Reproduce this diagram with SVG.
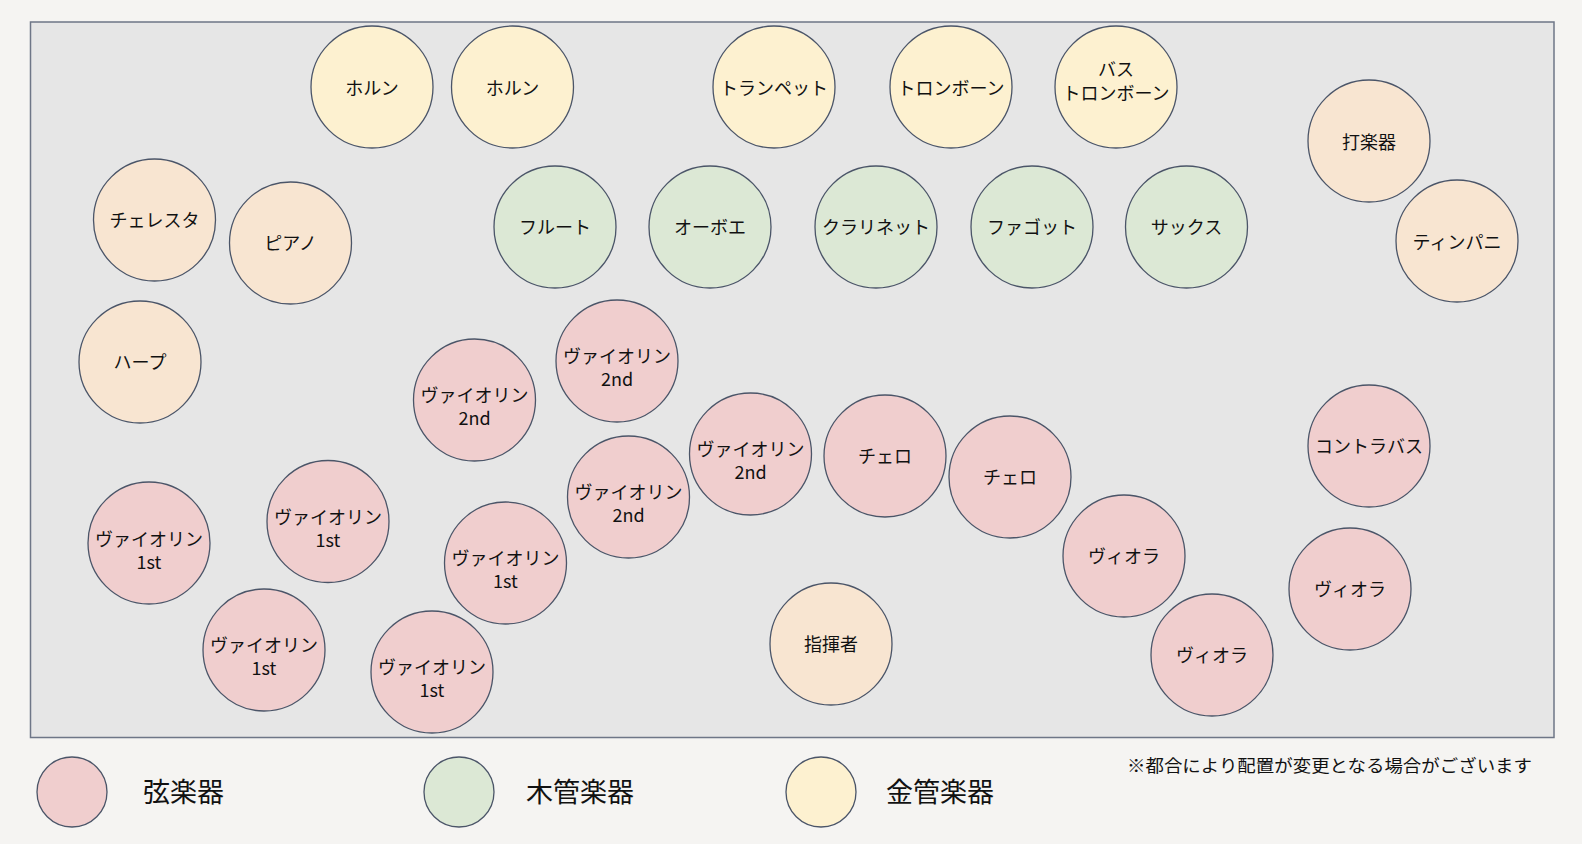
<svg xmlns="http://www.w3.org/2000/svg" width="1582" height="844" viewBox="0 0 1582 844">
<style>
.n{stroke:#4b5568;stroke-width:1.3}
.s{fill:#f0cece}
.w{fill:#dce8d5}
.b{fill:#fdf1d0}
.o{fill:#f8e5d1}
text{font-family:"Noto Sans CJK JP","Noto Sans",sans-serif;fill:#111;text-anchor:middle;dominant-baseline:central}
.t{font-size:18px}
.lg{font-size:27px;text-anchor:start}
.nt{font-size:17px;text-anchor:start}
</style>
<rect x="0" y="0" width="1582" height="844" fill="#f5f4f2"/>
<rect id="stage" x="30.5" y="22" width="1523.5" height="715.5" fill="#e6e6e6" stroke="#6e7687" stroke-width="1.5"/>
<g id="connectors"></g>
<g transform="translate(0,-1)">
<g id="horn1"><circle class="n b" cx="372" cy="88" r="61"/><text class="t" x="372" y="88">ホルン</text></g>
<g id="horn2"><circle class="n b" cx="512.5" cy="88" r="61"/><text class="t" x="512.5" y="88">ホルン</text></g>
<g id="trumpet"><circle class="n b" cx="774" cy="88" r="61"/><text class="t" x="774" y="88">トランペット</text></g>
<g id="trombone"><circle class="n b" cx="951" cy="88" r="61"/><text class="t" x="951" y="88">トロンボーン</text></g>
<g id="basstrombone"><circle class="n b" cx="1116" cy="88" r="61"/><text class="t" x="1116" y="69">バス</text><text class="t" x="1116" y="93">トロンボーン</text></g>
<g id="percussion"><circle class="n o" cx="1369" cy="142" r="61"/><text class="t" x="1369" y="142">打楽器</text></g>
<g id="timpani"><circle class="n o" cx="1457" cy="242" r="61"/><text class="t" x="1457" y="242">ティンパニ</text></g>
<g id="celesta"><circle class="n o" cx="154.5" cy="221" r="61"/><text class="t" x="154.5" y="220">チェレスタ</text></g>
<g id="piano"><circle class="n o" cx="290.5" cy="244" r="61"/><text class="t" x="290.5" y="243">ピアノ</text></g>
<g id="harp"><circle class="n o" cx="140" cy="363" r="61"/><text class="t" x="140" y="362">ハープ</text></g>
<g id="flute"><circle class="n w" cx="555" cy="228" r="61"/><text class="t" x="555" y="227">フルート</text></g>
<g id="oboe"><circle class="n w" cx="710" cy="228" r="61"/><text class="t" x="710" y="227">オーボエ</text></g>
<g id="clarinet"><circle class="n w" cx="876" cy="228" r="61"/><text class="t" x="876" y="227">クラリネット</text></g>
<g id="fagotto"><circle class="n w" cx="1032" cy="228" r="61"/><text class="t" x="1032" y="227">ファゴット</text></g>
<g id="sax"><circle class="n w" cx="1186.5" cy="228" r="61"/><text class="t" x="1186.5" y="227">サックス</text></g>
<g id="vn2a"><circle class="n s" cx="474.5" cy="401" r="61"/><text class="t" x="474.5" y="395">ヴァイオリン</text><text class="t" x="474.5" y="418">2nd</text></g>
<g id="vn2b"><circle class="n s" cx="617" cy="362" r="61"/><text class="t" x="617" y="356">ヴァイオリン</text><text class="t" x="617" y="379">2nd</text></g>
<g id="vn2c"><circle class="n s" cx="628.5" cy="498" r="61"/><text class="t" x="628.5" y="492">ヴァイオリン</text><text class="t" x="628.5" y="515">2nd</text></g>
<g id="vn2d"><circle class="n s" cx="750.5" cy="455" r="61"/><text class="t" x="750.5" y="449">ヴァイオリン</text><text class="t" x="750.5" y="472">2nd</text></g>
<g id="cello1"><circle class="n s" cx="885" cy="457" r="61"/><text class="t" x="885" y="456">チェロ</text></g>
<g id="cello2"><circle class="n s" cx="1010" cy="478" r="61"/><text class="t" x="1010" y="477">チェロ</text></g>
<g id="contrabass"><circle class="n s" cx="1369" cy="447" r="61"/><text class="t" x="1369" y="446">コントラバス</text></g>
<g id="viola1"><circle class="n s" cx="1124" cy="557" r="61"/><text class="t" x="1124" y="556">ヴィオラ</text></g>
<g id="viola2"><circle class="n s" cx="1350" cy="590" r="61"/><text class="t" x="1350" y="589">ヴィオラ</text></g>
<g id="viola3"><circle class="n s" cx="1212" cy="656" r="61"/><text class="t" x="1212" y="655">ヴィオラ</text></g>
<g id="conductor"><circle class="n o" cx="831" cy="645" r="61"/><text class="t" x="831" y="644">指揮者</text></g>
<g id="vn1a"><circle class="n s" cx="149" cy="544" r="61"/><text class="t" x="149" y="539">ヴァイオリン</text><text class="t" x="149" y="562">1st</text></g>
<g id="vn1b"><circle class="n s" cx="328" cy="522.5" r="61"/><text class="t" x="328" y="517">ヴァイオリン</text><text class="t" x="328" y="540">1st</text></g>
<g id="vn1c"><circle class="n s" cx="505.5" cy="564" r="61"/><text class="t" x="505.5" y="558">ヴァイオリン</text><text class="t" x="505.5" y="581">1st</text></g>
<g id="vn1d"><circle class="n s" cx="264" cy="651" r="61"/><text class="t" x="264" y="645">ヴァイオリン</text><text class="t" x="264" y="668">1st</text></g>
<g id="vn1e"><circle class="n s" cx="432" cy="673" r="61"/><text class="t" x="432" y="667">ヴァイオリン</text><text class="t" x="432" y="690">1st</text></g>
</g>
<g id="legend-strings"><circle class="n s" cx="72" cy="792" r="35"/><text class="lg" x="143" y="790">弦楽器</text></g>
<g id="legend-wood"><circle class="n w" cx="459" cy="792" r="35"/><text class="lg" x="526" y="790">木管楽器</text></g>
<g id="legend-brass"><circle class="n b" cx="821" cy="792" r="35"/><text class="lg" x="886" y="790">金管楽器</text></g>
<text id="note" class="nt" x="1127" y="764" textLength="405" lengthAdjust="spacingAndGlyphs">※都合により配置が変更となる場合がございます</text>
</svg>
